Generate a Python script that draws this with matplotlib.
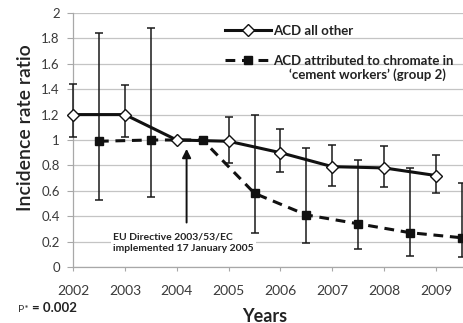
# Incidence rate ratio of ACD, 2002-2009
import numpy as np
import matplotlib
matplotlib.use("Agg")
import matplotlib.pyplot as plt

plt.rcParams['font.family'] = ['Lato', 'DejaVu Sans']

# ACD all other (diamonds, on the year ticks)
years_other = [2002, 2003, 2004, 2005, 2006, 2007, 2008, 2009]
other = [1.20, 1.20, 1.00, 0.99, 0.90, 0.79, 0.78, 0.72]
other_lo = [1.02, 1.02, np.nan, 0.82, 0.75, 0.64, 0.63, 0.58]
other_hi = [1.44, 1.43, np.nan, 1.18, 1.09, 0.96, 0.95, 0.88]

# ACD attributed to chromate in cement workers (squares, mid-year)
years_cem = [2002.5, 2003.5, 2004.5, 2005.5, 2006.5, 2007.5, 2008.5, 2009.5]
cement = [0.99, 1.00, 1.00, 0.58, 0.41, 0.34, 0.27, 0.23]
cement_lo = [0.53, 0.55, np.nan, 0.27, 0.19, 0.14, 0.09, 0.08]
cement_hi = [1.84, 1.88, np.nan, 1.20, 0.94, 0.84, 0.78, 0.66]

year_ticks = [2002, 2003, 2004, 2005, 2006, 2007, 2008, 2009]
y_ticks = [0, 0.2, 0.4, 0.6, 0.8, 1, 1.2, 1.4, 1.6, 1.8, 2]
y_labels = ["0", "0.2", "0.4", "0.6", "0.8", "1", "1.2", "1.4", "1.6", "1.8", "2"]

label_other = "ACD all other"
label_cem = "ACD attributed to chromate in"
label_cem2 = "\u2018cement workers\u2019 (group 2)"


def errs(x, y, lo, hi):
    x, y, lo, hi = map(np.asarray, (x, y, lo, hi))
    m = np.isfinite(lo)
    return x[m], y[m], np.vstack([y[m] - lo[m], hi[m] - y[m]])


fig = plt.figure(figsize=(4.63, 3.23), dpi=100)
ax = fig.add_axes([0.1577, 0.1734, 0.8423, 0.7864])

ax.set_xlim(2002, 2009.52)
ax.set_ylim(0, 2)
ax.set_yticks(y_ticks)
ax.set_yticklabels(y_labels)
ax.set_xticks(year_ticks)
ax.set_xticklabels([str(y) for y in year_ticks])

ax.grid(axis='y', color='#c4c4c4', lw=0.9)
ax.set_axisbelow(True)
for s in ['top', 'right']:
    ax.spines[s].set_visible(False)
for s in ['left', 'bottom']:
    ax.spines[s].set_color('#a8a8a8')
    ax.spines[s].set_linewidth(0.9)
ax.tick_params(axis='y', length=4.5, width=0.8, color='#a8a8a8', pad=5,
               labelsize=9.5, labelcolor='#3a3a3a')
ax.tick_params(axis='x', length=3, width=0.8, color='#a8a8a8', pad=10,
               labelsize=10, labelcolor='#3a3a3a')

# error bars
for xs, ys, los, his in [(years_other, other, other_lo, other_hi),
                         (years_cem, cement, cement_lo, cement_hi)]:
    ex, ey, ee = errs(xs, ys, los, his)
    eb = ax.errorbar(ex, ey, yerr=ee, fmt='none', ecolor='#1a1a1a', elinewidth=1.1,
                     capsize=3, capthick=1.1, zorder=3)
    for art in eb.lines[1] + eb.lines[2]:
        art.set_clip_on(False)

# lines
l_cem, = ax.plot(years_cem, cement, color='#111111', lw=2.2, dashes=[3.2, 2.2],
                 marker='s', ms=5.5, mfc='#111111', mec='#111111', zorder=4,
                 clip_on=False)
l_oth, = ax.plot(years_other, other, color='#111111', lw=2.2,
                 marker='D', ms=6.5, mfc='white', mec='#111111', mew=1.0, zorder=5,
                 clip_on=False)

# legend
leg = ax.legend([l_oth, l_cem], [label_other, label_cem], loc='upper left',
                bbox_to_anchor=(0.36, 1.0), frameon=False, handlelength=3.5,
                handletextpad=0.15, labelspacing=1.35, borderpad=0.4,
                prop={'size': 9.5, 'weight': 'bold'})
for t in leg.get_texts():
    t.set_color('#222222')
ax.text(0.553, 0.756, label_cem2, transform=ax.transAxes, fontsize=9.5,
        fontweight='bold', color='#222222', va='center', ha='left')

# directive annotation
ax.annotate("", xy=(2004.19, 0.93), xytext=(2004.19, 0.35),
            arrowprops=dict(arrowstyle='-|>', color='#111111', lw=1.4,
                            mutation_scale=13, shrinkA=0, shrinkB=0), zorder=6)
ax.text(2002.77, 0.19, "EU Directive 2003/53/EC\nimplemented 17 January 2005",
        fontsize=7.5, fontweight='bold', color='#222222', va='center', ha='left',
        linespacing=1.35,
        bbox=dict(facecolor='white', edgecolor='none', pad=1.5), zorder=2)

ax.set_ylabel("Incidence rate ratio", fontsize=14, fontweight='semibold',
              color='#222222')
ax.yaxis.set_label_coords(-0.1, 0.547)

fig.text(0.572, 0.046, "Years", fontsize=13, fontweight='bold', color='#222222',
         ha='center', va='top')
fig.text(0.039, 0.034, "P* ", fontsize=7.5, color='#333333', ha='left',
         va='baseline')
fig.text(0.070, 0.034, "= 0.002", fontsize=9.5, fontweight='bold', color='#222222',
         ha='left', va='baseline')

fig.savefig("out.png", dpi=100)
